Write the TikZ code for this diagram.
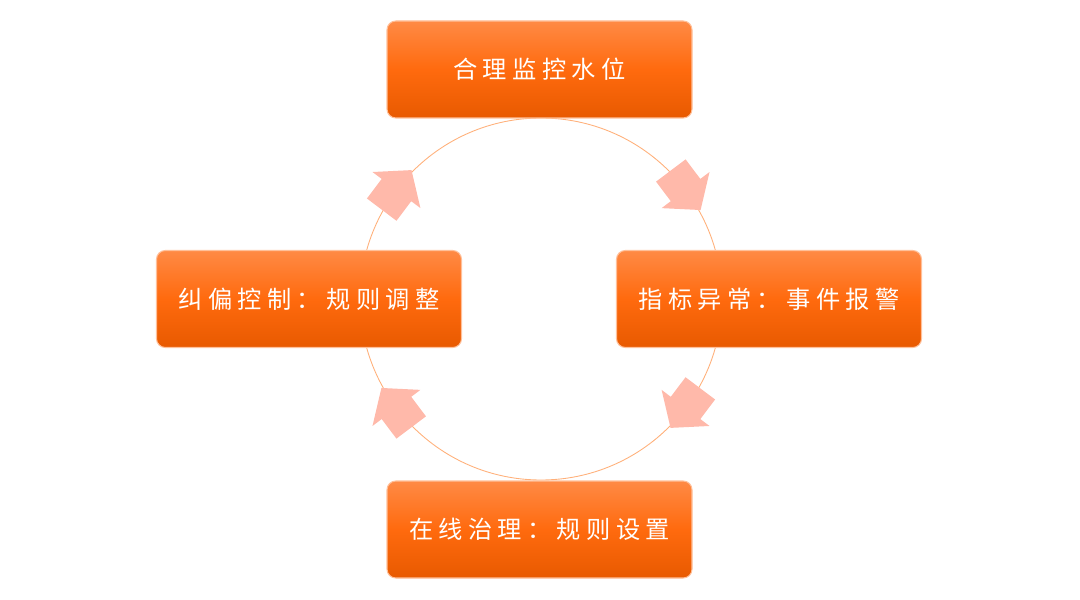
\documentclass[tikz,border=0pt]{standalone}
\usepackage{fontspec}
\newfontfamily\cjk[LetterSpace=22]{Noto Sans CJK SC}
\usetikzlibrary{positioning,calc}
\definecolor{ringc}{HTML}{FFB07A}
\definecolor{arrowc}{HTML}{FFB9AA}
\definecolor{boxtop}{HTML}{FF8A45}
\definecolor{boxmid}{HTML}{FF6A0E}
\definecolor{boxbot}{HTML}{E85A00}
\definecolor{boxline}{HTML}{FFC09A}

\begin{document}
\begin{tikzpicture}[
  stage/.style={rectangle,rounded corners=5pt,draw=boxline,line width=0.6pt,
    top color=boxtop,bottom color=boxbot,middle color=boxmid,
    minimum width=6.1cm,minimum height=1.94cm,inner sep=0pt,
    text=white,font=\cjk\fontsize{13.8}{16}\selectfont},
  flow/.pic={\fill[arrowc] (-0.49,-0.37) -- (0,-0.37) -- (0,-0.6)
    -- (0.5,0) -- (0,0.6) -- (0,0.37) -- (-0.49,0.37) -- cycle;}
]
  \useasboundingbox (0,0) rectangle (21.6,11.98);
  \coordinate (C) at (10.82,6.0);
  \draw[ringc,line width=0.5pt] (C) circle (3.62);
  % block arrows on the ring
  \pic[rotate=-53] at ($(C)+(37:3.62)$) {flow};
  \pic[rotate=-127] at ($(C)+(-37:3.62)$) {flow};
  \pic[rotate=127] at ($(C)+(217:3.62)$) {flow};
  \pic[rotate=53] at ($(C)+(143:3.62)$) {flow};
  % stages
  \node[stage] (P1) at (10.79,10.59) {合理监控水位};
  \node[stage] (P2) at (15.38,6.0) {指标异常：事件报警};
  \node[stage] (P3) at (10.79,1.39) {在线治理：规则设置};
  \node[stage] (P4) at (6.18,6.0) {纠偏控制：规则调整};
\end{tikzpicture}
\end{document}
